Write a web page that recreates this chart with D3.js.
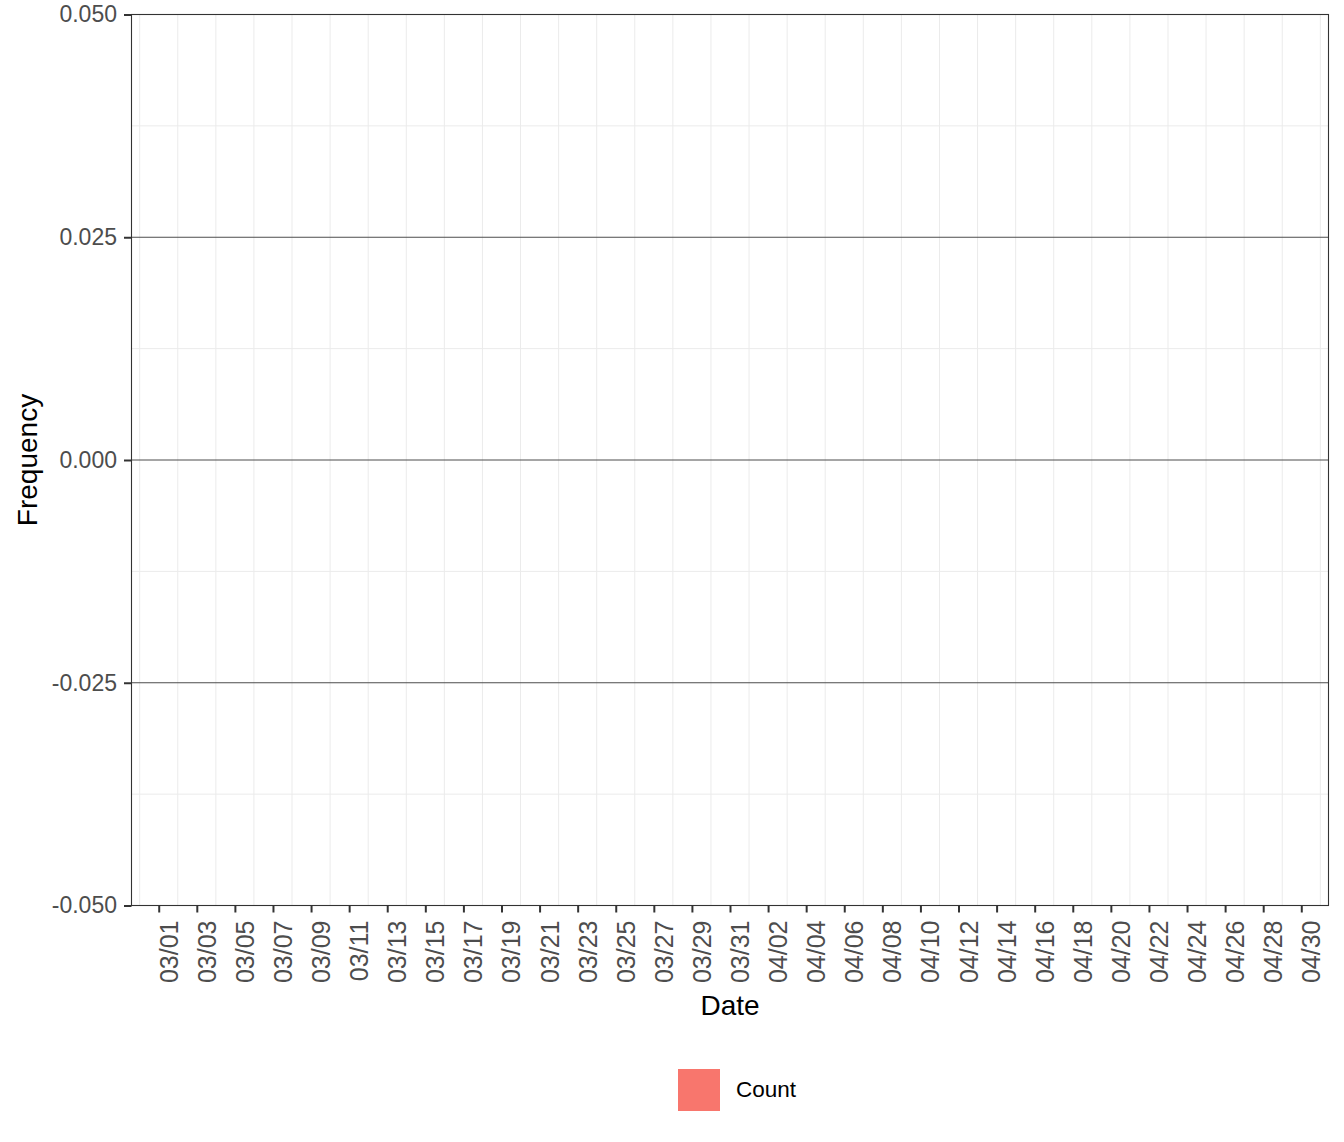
<!DOCTYPE html>
<html>
<head>
<meta charset="utf-8">
<script src="https://cdn.jsdelivr.net/npm/d3@7"></script>
<style>
  body { margin: 0; background: #fff; }
  text { font-family: "Liberation Sans", Arial, sans-serif; }
</style>
</head>
<body>
<div id="main"></div>
<script>
const ctx = {
    SVG_W: 1344,
    SVG_H: 1142,
    left: 131.5,
    right: 1328.5,
    top: 14.5,
    bottom: 905.5,
};

// x breaks (every second day), shown as MM/DD
const tickDates = [
    "2020-03-01", "2020-03-03", "2020-03-05", "2020-03-07", "2020-03-09", "2020-03-11",
    "2020-03-13", "2020-03-15", "2020-03-17", "2020-03-19", "2020-03-21", "2020-03-23",
    "2020-03-25", "2020-03-27", "2020-03-29", "2020-03-31", "2020-04-02", "2020-04-04",
    "2020-04-06", "2020-04-08", "2020-04-10", "2020-04-12", "2020-04-14", "2020-04-16",
    "2020-04-18", "2020-04-20", "2020-04-22", "2020-04-24", "2020-04-26", "2020-04-28",
    "2020-04-30"
];
// the panel reaches a bit under 1.5 days past the first and last break
const xLimits = ["2020-02-28T13:42", "2020-05-01T10:18"];

// y axis
const yLimits = [-0.05, 0.05];
const yBreaks = [-0.05, -0.025, 0, 0.025, 0.05];
const yMinor = [-0.0375, -0.0125, 0.0125, 0.0375];
const yLines = [-0.025, 0, 0.025];

// legend
const seriesNames = ["Count"];
const seriesColors = ["#F8766D"];

function drawChart(svgEl) {
    const parse = d3.timeParse("%Y-%m-%d");
    const parseT = d3.timeParse("%Y-%m-%dT%H:%M");
    const ticks = tickDates.map(parse);
    const fmtY = d3.format(".3f");

    const x = d3.scaleTime()
        .domain(xLimits.map(parseT))
        .range([ctx.left, ctx.right]);
    const y = d3.scaleLinear()
        .domain(yLimits)
        .range([ctx.bottom, ctx.top]);

    // vertical grid sits one day before each break (plus one after the last)
    const vGrid = ticks.map(d => d3.timeDay.offset(d, -1))
        .concat([d3.timeDay.offset(ticks[ticks.length - 1], 1)]);

    let grid = svgEl.append("g").attr("class", "grid");
    grid.selectAll("line.v")
        .data(vGrid)
        .enter()
        .append("line")
        .attr("x1", d => x(d)).attr("x2", d => x(d))
        .attr("y1", ctx.top).attr("y2", ctx.bottom)
        .attr("stroke", "#EBEBEB")
        .attr("stroke-width", 1);
    grid.selectAll("line.h")
        .data(yMinor)
        .enter()
        .append("line")
        .attr("x1", ctx.left).attr("x2", ctx.right)
        .attr("y1", d => y(d)).attr("y2", d => y(d))
        .attr("stroke", "#EBEBEB")
        .attr("stroke-width", 1);

    // darker reference lines
    svgEl.append("g")
        .selectAll("line")
        .data(yLines)
        .enter()
        .append("line")
        .attr("x1", ctx.left).attr("x2", ctx.right)
        .attr("y1", d => y(d)).attr("y2", d => y(d))
        .attr("stroke", "#4D4D4D")
        .attr("stroke-width", 1);

    // panel border
    svgEl.append("rect")
        .attr("x", ctx.left).attr("y", ctx.top)
        .attr("width", ctx.right - ctx.left)
        .attr("height", ctx.bottom - ctx.top)
        .attr("fill", "none")
        .attr("stroke", "#333333")
        .attr("stroke-width", 1.1);

    // y axis
    let yAxis = svgEl.append("g")
        .attr("transform", "translate(" + ctx.left + ",0)")
        .call(d3.axisLeft(y).tickValues(yBreaks)
            .tickFormat(d => fmtY(d).replace("\u2212", "-"))
            .tickSizeInner(7.5).tickSizeOuter(0).tickPadding(7));
    yAxis.select(".domain").remove();
    yAxis.selectAll(".tick line").attr("stroke", "#333333").attr("stroke-width", 2);
    yAxis.selectAll(".tick text")
        .attr("fill", "#4D4D4D")
        .style("font-size", "23px")
        .style("font-family", "'Liberation Sans', Arial, sans-serif");

    // x axis
    let xAxis = svgEl.append("g")
        .attr("transform", "translate(0," + ctx.bottom + ")")
        .call(d3.axisBottom(x).tickValues(ticks).tickFormat(d3.timeFormat("%m/%d"))
            .tickSizeInner(7).tickSizeOuter(0));
    xAxis.select(".domain").remove();
    xAxis.selectAll(".tick line").attr("stroke", "#333333").attr("stroke-width", 2);
    xAxis.selectAll(".tick text")
        .attr("fill", "#4D4D4D")
        .style("font-size", "25px")
        .style("font-family", "'Liberation Sans', Arial, sans-serif")
        .attr("text-anchor", "end")
        .attr("dy", null)
        .attr("transform", "translate(0,15) rotate(-90)")
        .attr("x", 0).attr("y", 18.5);

    // axis titles
    svgEl.append("text")
        .attr("x", (ctx.left + ctx.right) / 2)
        .attr("y", 1015)
        .attr("text-anchor", "middle")
        .style("font-size", "28px")
        .attr("fill", "#000")
        .text("Date");
    svgEl.append("text")
        .attr("transform", "translate(37," + ((ctx.top + ctx.bottom) / 2) + ") rotate(-90)")
        .attr("text-anchor", "middle")
        .style("font-size", "28px")
        .attr("fill", "#000")
        .text("Frequency");

    // legend
    let legend = svgEl.append("g")
        .selectAll("g")
        .data(seriesNames)
        .enter()
        .append("g");
    legend.append("rect")
        .attr("x", 678).attr("y", 1069)
        .attr("width", 42).attr("height", 42)
        .attr("fill", (d, i) => seriesColors[i]);
    legend.append("text")
        .attr("x", 736).attr("y", 1097)
        .style("font-size", "22.5px")
        .attr("fill", "#000")
        .text(d => d);
}

function createViz() {
    let svgEl = d3.select("#main").append("svg");
    svgEl.attr("width", ctx.SVG_W);
    svgEl.attr("height", ctx.SVG_H);
    drawChart(svgEl);
}

createViz();
</script>
</body>
</html>
